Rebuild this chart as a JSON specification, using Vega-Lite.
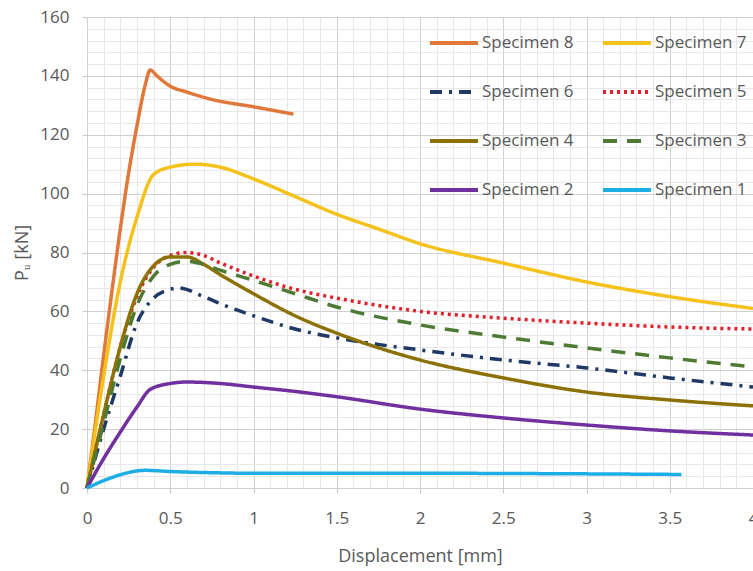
{
  "$schema": "https://vega.github.io/schema/vega-lite/v6.json",
  "width": 666,
  "height": 471,
  "autosize": {"type": "none"},
  "padding": {"left": 87, "top": 17, "right": 0, "bottom": 83},
  "background": "white",
  "config": {"view": {"stroke": null}, "font": "Open Sans"},
  "data": {
    "values": [
      {"s": "Specimen 8", "x": 0, "y": 0},
      {"s": "Specimen 8", "x": 0.05, "y": 22},
      {"s": "Specimen 8", "x": 0.1, "y": 45},
      {"s": "Specimen 8", "x": 0.15, "y": 67},
      {"s": "Specimen 8", "x": 0.2, "y": 88},
      {"s": "Specimen 8", "x": 0.25, "y": 107},
      {"s": "Specimen 8", "x": 0.3, "y": 123},
      {"s": "Specimen 8", "x": 0.35, "y": 137},
      {"s": "Specimen 8", "x": 0.38, "y": 142},
      {"s": "Specimen 8", "x": 0.42, "y": 140},
      {"s": "Specimen 8", "x": 0.5, "y": 136.5},
      {"s": "Specimen 8", "x": 0.6, "y": 134.5},
      {"s": "Specimen 8", "x": 0.75, "y": 132},
      {"s": "Specimen 8", "x": 1.0, "y": 129.5},
      {"s": "Specimen 8", "x": 1.24, "y": 127},

      {"s": "Specimen 7", "x": 0, "y": 0},
      {"s": "Specimen 7", "x": 0.1, "y": 38},
      {"s": "Specimen 7", "x": 0.2, "y": 70},
      {"s": "Specimen 7", "x": 0.3, "y": 92},
      {"s": "Specimen 7", "x": 0.4, "y": 106.5},
      {"s": "Specimen 7", "x": 0.5, "y": 109},
      {"s": "Specimen 7", "x": 0.65, "y": 110},
      {"s": "Specimen 7", "x": 0.8, "y": 109},
      {"s": "Specimen 7", "x": 1.0, "y": 105},
      {"s": "Specimen 7", "x": 1.25, "y": 99},
      {"s": "Specimen 7", "x": 1.5, "y": 93},
      {"s": "Specimen 7", "x": 1.75, "y": 88},
      {"s": "Specimen 7", "x": 2.0, "y": 83},
      {"s": "Specimen 7", "x": 2.5, "y": 76.4},
      {"s": "Specimen 7", "x": 3.0, "y": 70},
      {"s": "Specimen 7", "x": 3.5, "y": 65},
      {"s": "Specimen 7", "x": 4.0, "y": 61},

      {"s": "Specimen 6", "x": 0, "y": 0},
      {"s": "Specimen 6", "x": 0.1, "y": 20},
      {"s": "Specimen 6", "x": 0.2, "y": 38},
      {"s": "Specimen 6", "x": 0.3, "y": 56},
      {"s": "Specimen 6", "x": 0.4, "y": 64.5},
      {"s": "Specimen 6", "x": 0.5, "y": 67.5},
      {"s": "Specimen 6", "x": 0.55, "y": 68},
      {"s": "Specimen 6", "x": 0.7, "y": 65},
      {"s": "Specimen 6", "x": 0.85, "y": 61.5},
      {"s": "Specimen 6", "x": 1.0, "y": 58.5},
      {"s": "Specimen 6", "x": 1.25, "y": 54},
      {"s": "Specimen 6", "x": 1.5, "y": 51},
      {"s": "Specimen 6", "x": 2.0, "y": 46.9},
      {"s": "Specimen 6", "x": 2.5, "y": 43.5},
      {"s": "Specimen 6", "x": 3.0, "y": 40.8},
      {"s": "Specimen 6", "x": 3.5, "y": 37.4},
      {"s": "Specimen 6", "x": 4.0, "y": 34.3},

      {"s": "Specimen 5", "x": 0, "y": 0},
      {"s": "Specimen 5", "x": 0.1, "y": 25},
      {"s": "Specimen 5", "x": 0.2, "y": 48},
      {"s": "Specimen 5", "x": 0.3, "y": 65},
      {"s": "Specimen 5", "x": 0.4, "y": 75},
      {"s": "Specimen 5", "x": 0.5, "y": 79},
      {"s": "Specimen 5", "x": 0.6, "y": 80},
      {"s": "Specimen 5", "x": 0.7, "y": 79},
      {"s": "Specimen 5", "x": 0.8, "y": 76.5},
      {"s": "Specimen 5", "x": 1.0, "y": 72},
      {"s": "Specimen 5", "x": 1.25, "y": 67.5},
      {"s": "Specimen 5", "x": 1.5, "y": 64.5},
      {"s": "Specimen 5", "x": 1.75, "y": 62},
      {"s": "Specimen 5", "x": 2.0, "y": 60},
      {"s": "Specimen 5", "x": 2.5, "y": 57.7},
      {"s": "Specimen 5", "x": 3.0, "y": 56},
      {"s": "Specimen 5", "x": 3.5, "y": 54.7},
      {"s": "Specimen 5", "x": 4.0, "y": 54},

      {"s": "Specimen 4", "x": 0, "y": 0},
      {"s": "Specimen 4", "x": 0.1, "y": 25},
      {"s": "Specimen 4", "x": 0.2, "y": 48},
      {"s": "Specimen 4", "x": 0.3, "y": 66},
      {"s": "Specimen 4", "x": 0.4, "y": 75.5},
      {"s": "Specimen 4", "x": 0.5, "y": 78.5},
      {"s": "Specimen 4", "x": 0.6, "y": 78.5},
      {"s": "Specimen 4", "x": 0.7, "y": 76},
      {"s": "Specimen 4", "x": 0.8, "y": 72.5},
      {"s": "Specimen 4", "x": 1.0, "y": 66},
      {"s": "Specimen 4", "x": 1.25, "y": 58.5},
      {"s": "Specimen 4", "x": 1.5, "y": 52.6},
      {"s": "Specimen 4", "x": 2.0, "y": 43.5},
      {"s": "Specimen 4", "x": 2.5, "y": 37.4},
      {"s": "Specimen 4", "x": 3.0, "y": 32.6},
      {"s": "Specimen 4", "x": 3.5, "y": 29.9},
      {"s": "Specimen 4", "x": 4.0, "y": 27.9},

      {"s": "Specimen 3", "x": 0, "y": 0},
      {"s": "Specimen 3", "x": 0.1, "y": 22},
      {"s": "Specimen 3", "x": 0.2, "y": 44},
      {"s": "Specimen 3", "x": 0.3, "y": 62},
      {"s": "Specimen 3", "x": 0.4, "y": 72},
      {"s": "Specimen 3", "x": 0.5, "y": 76},
      {"s": "Specimen 3", "x": 0.6, "y": 77},
      {"s": "Specimen 3", "x": 0.7, "y": 76},
      {"s": "Specimen 3", "x": 0.8, "y": 74},
      {"s": "Specimen 3", "x": 1.0, "y": 70.5},
      {"s": "Specimen 3", "x": 1.25, "y": 66},
      {"s": "Specimen 3", "x": 1.5, "y": 61.5},
      {"s": "Specimen 3", "x": 2.0, "y": 55.4},
      {"s": "Specimen 3", "x": 2.5, "y": 51.3},
      {"s": "Specimen 3", "x": 3.0, "y": 47.6},
      {"s": "Specimen 3", "x": 3.5, "y": 44.2},
      {"s": "Specimen 3", "x": 4.0, "y": 41.1},

      {"s": "Specimen 2", "x": 0, "y": 0},
      {"s": "Specimen 2", "x": 0.1, "y": 10},
      {"s": "Specimen 2", "x": 0.2, "y": 19},
      {"s": "Specimen 2", "x": 0.3, "y": 27.5},
      {"s": "Specimen 2", "x": 0.38, "y": 33.5},
      {"s": "Specimen 2", "x": 0.5, "y": 35.5},
      {"s": "Specimen 2", "x": 0.6, "y": 36},
      {"s": "Specimen 2", "x": 0.8, "y": 35.5},
      {"s": "Specimen 2", "x": 1.0, "y": 34.3},
      {"s": "Specimen 2", "x": 1.25, "y": 32.8},
      {"s": "Specimen 2", "x": 1.5, "y": 31},
      {"s": "Specimen 2", "x": 2.0, "y": 26.8},
      {"s": "Specimen 2", "x": 2.5, "y": 23.8},
      {"s": "Specimen 2", "x": 3.0, "y": 21.4},
      {"s": "Specimen 2", "x": 3.5, "y": 19.4},
      {"s": "Specimen 2", "x": 4.0, "y": 18},

      {"s": "Specimen 1", "x": 0, "y": 0},
      {"s": "Specimen 1", "x": 0.1, "y": 2.5},
      {"s": "Specimen 1", "x": 0.2, "y": 4.5},
      {"s": "Specimen 1", "x": 0.3, "y": 5.8},
      {"s": "Specimen 1", "x": 0.35, "y": 6},
      {"s": "Specimen 1", "x": 0.5, "y": 5.6},
      {"s": "Specimen 1", "x": 0.75, "y": 5.2},
      {"s": "Specimen 1", "x": 1.0, "y": 5},
      {"s": "Specimen 1", "x": 2.0, "y": 5},
      {"s": "Specimen 1", "x": 3.0, "y": 4.8},
      {"s": "Specimen 1", "x": 3.57, "y": 4.6}
    ]
  },
  "layer": [
    {
      "mark": {"type": "line", "opacity": 0},
      "encoding": {
        "x": {
          "field": "x", "type": "quantitative",
          "scale": {"domain": [0, 4], "nice": false, "zero": false},
          "axis": {
            "orient": "bottom", "grid": true, "gridColor": "#e8e8e8", "gridWidth": 1,
            "labels": false, "ticks": false, "domain": false, "title": null,
            "values": [0.1,0.2,0.3,0.4,0.6,0.7,0.8,0.9,1.1,1.2,1.3,1.4,1.6,1.7,1.8,1.9,2.1,2.2,2.3,2.4,2.6,2.7,2.8,2.9,3.1,3.2,3.3,3.4,3.6,3.7,3.8,3.9]
          }
        },
        "y": {
          "field": "y", "type": "quantitative",
          "scale": {"domain": [0, 160], "nice": false},
          "axis": {
            "orient": "left", "grid": true, "gridColor": "#e8e8e8", "gridWidth": 1,
            "labels": false, "ticks": false, "domain": false, "title": null,
            "values": [4,8,12,16,24,28,32,36,44,48,52,56,64,68,72,76,84,88,92,96,104,108,112,116,124,128,132,136,144,148,152,156]
          }
        },
        "detail": {"field": "s"}
      }
    },
    {
      "mark": {"type": "line", "strokeWidth": 3.5, "interpolate": "monotone"},
      "encoding": {
        "x": {
          "field": "x", "type": "quantitative",
          "axis": {
            "orient": "bottom", "grid": true, "gridColor": "#d0d0d0",
            "values": [0,0.5,1,1.5,2,2.5,3,3.5,4], "format": "~g", "labelFlush": false,
            "domain": false, "ticks": true, "tickSize": 5, "tickColor": "#c8c8c8",
            "labelFontSize": 17, "labelColor": "#595959", "labelPadding": 17,
            "title": "Displacement [mm]", "titleFontSize": 18, "titleFontWeight": "normal",
            "titleColor": "#595959", "titlePadding": 21
          }
        },
        "y": {
          "field": "y", "type": "quantitative",
          "axis": {
            "orient": "left", "grid": true, "gridColor": "#d0d0d0",
            "values": [0,20,40,60,80,100,120,140,160], "labelFlush": false,
            "domain": false, "ticks": true, "tickSize": 5, "tickColor": "#c8c8c8",
            "labelFontSize": 17, "labelColor": "#595959", "labelPadding": 13,
            "title": "Pᵤ [kN]", "titleFontSize": 18, "titleFontWeight": "normal",
            "titleColor": "#595959", "titlePadding": 8
          }
        },
        "color": {
          "field": "s", "type": "nominal",
          "scale": {
            "domain": ["Specimen 8","Specimen 7","Specimen 6","Specimen 5","Specimen 4","Specimen 3","Specimen 2","Specimen 1"],
            "range": ["#E0783A","#F5C21B","#1F3864","#E0202A","#8C7206","#4E7A34","#7030A0","#1EAEE6"]
          },
          "legend": {
            "title": null, "orient": "none", "legendX": 341, "legendY": 0,
            "direction": "horizontal", "columns": 2, "symbolType": "stroke", "symbolSize": 2304, "symbolStrokeWidth": 4,
            "labelFontSize": 17, "labelColor": "#595959", "labelOffset": 2,
            "columnPadding": 21, "rowPadding": 15, "labelLimit": 200
          }
        },
        "strokeDash": {
          "field": "s", "type": "nominal",
          "scale": {
            "domain": ["Specimen 8","Specimen 7","Specimen 6","Specimen 5","Specimen 4","Specimen 3","Specimen 2","Specimen 1"],
            "range": [[1,0],[1,0],[12,7,3,7],[3,4],[1,0],[14,10],[1,0],[1,0]]
          },
          "legend": {
            "title": null, "orient": "none", "legendX": 341, "legendY": 0,
            "direction": "horizontal", "columns": 2, "symbolType": "stroke", "symbolSize": 2304, "symbolStrokeWidth": 4,
            "labelFontSize": 17, "labelColor": "#595959", "labelOffset": 2,
            "columnPadding": 21, "rowPadding": 15, "labelLimit": 200
          }
        }
      }
    }
  ],
  "resolve": {"axis": {"x": "independent", "y": "independent"}}
}
